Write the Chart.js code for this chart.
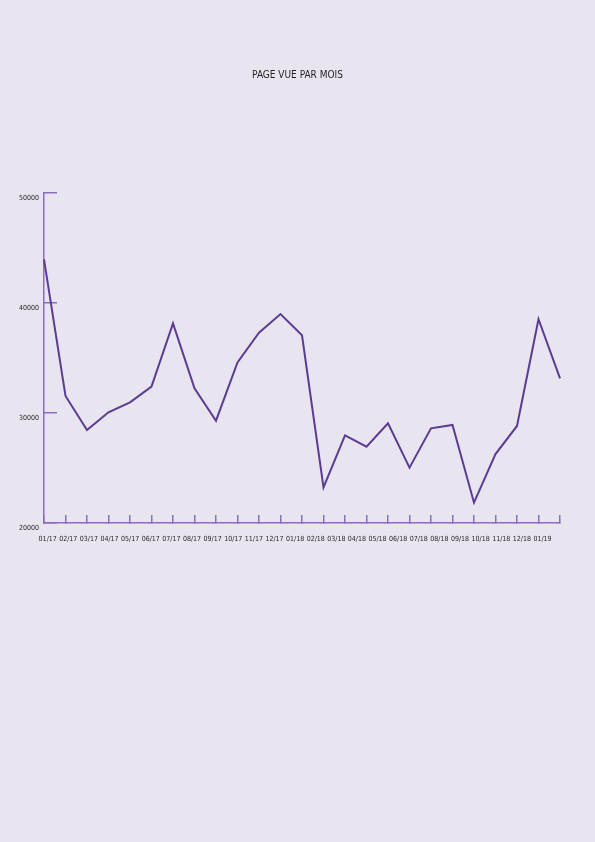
<!DOCTYPE html>
<html>
<head>
<meta charset="utf-8">
<script src="https://cdn.jsdelivr.net/npm/chart.js@4"></script>
<style>
  html, body { margin: 0; padding: 0; background: #e8e5f0; }
  canvas { display: block; }
</style>
</head>
<body>
<canvas id="c" width="595" height="842"></canvas>
<script>
const title = 'PAGE VUE PAR MOIS';
const months = ['01/17','02/17','03/17','04/17','05/17','06/17','07/17','08/17','09/17','10/17','11/17','12/17',
                '01/18','02/18','03/18','04/18','05/18','06/18','07/18','08/18','09/18','10/18','11/18','12/18','01/19'];
const views = [43970, 31550, 28450, 30060, 30970, 32400, 38150, 32240, 29300, 34600, 37300, 39000,
               37060, 23240, 27970, 26940, 29060, 25030, 28610, 28910, 21850, 26270, 28820, 38520, 33150];
const yTicks = [20000, 30000, 40000, 50000];

const FONT = "'Liberation Sans Narrow', 'DejaVu Sans Condensed', 'Arial Narrow', 'Liberation Sans', sans-serif";
const AXIS = '#8c6dbd';
const LINE = '#5c3b92';
const TEXT = '#231f20';

new Chart(document.getElementById('c'), {
  type: 'line',
  data: {
    labels: months,
    datasets: [{
      data: views,
      borderColor: LINE,
      borderWidth: 2,
      pointRadius: 0,
      tension: 0,
      fill: false,
      xAxisID: 'x',
      yAxisID: 'y'
    }]
  },
  options: {
    responsive: false,
    animation: false,
    devicePixelRatio: 1,
    layout: { padding: { left: 0, right: 0, top: 0, bottom: 289 } },
    plugins: {
      legend: { display: false },
      tooltip: { enabled: false },
      title: {
        display: true,
        text: title,
        color: TEXT,
        font: { family: FONT, size: 10, weight: 'normal' },
        padding: { top: 69, bottom: 112 }
      }
    },
    scales: {
      x: {
        type: 'category',
        position: 'bottom',
        offset: false,
        border: { display: true, color: AXIS, width: 1.5 },
        grid: { display: true, drawOnChartArea: false, drawTicks: true, tickLength: -8, color: AXIS, lineWidth: 1.5 },
        ticks: { display: false, autoSkip: false },
        afterFit: (s) => { s.height = 0; }
      },
      x2: {
        type: 'linear',
        position: 'bottom',
        min: -0.179,
        max: 24.85,
        border: { display: false },
        grid: { display: false, drawTicks: false },
        ticks: {
          autoSkip: false,
          maxRotation: 0,
          padding: 12,
          color: TEXT,
          font: { family: FONT, size: 7 },
          callback: (v) => months[v]
        },
        afterBuildTicks: (s) => { s.ticks = months.map((m, i) => ({ value: i })); },
        afterFit: (s) => { s.height = 30; }
      },
      y: {
        type: 'linear',
        position: 'left',
        min: 20000,
        max: 50000,
        border: { display: true, color: AXIS, width: 1.5 },
        grid: { display: true, drawOnChartArea: false, drawTicks: true, tickLength: -13, color: AXIS, lineWidth: 1.5 },
        ticks: {
          stepSize: 10000,
          padding: 18,
          labelOffset: 5,
          color: TEXT,
          font: { family: FONT, size: 7 },
          callback: (v) => yTicks.includes(v) ? String(v) : ''
        },
        afterFit: (s) => { s.width = 44; }
      },
      yr: {
        type: 'linear',
        position: 'right',
        display: true,
        border: { display: false },
        grid: { display: false, drawTicks: false },
        ticks: { display: false },
        afterFit: (s) => { s.width = 35; }
      }
    }
  }
});
</script>
</body>
</html>
